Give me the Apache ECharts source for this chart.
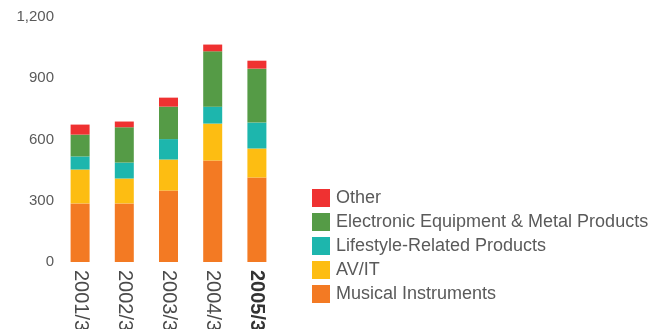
<!DOCTYPE html>
<html>
<head>
<meta charset="utf-8">
<script src="https://cdn.jsdelivr.net/npm/echarts@6/dist/echarts.min.js"></script>
<style>
  html, body { margin: 0; padding: 0; background: #fff; }
  #chart { width: 664px; height: 329px; }
</style>
</head>
<body>
<div id="chart"></div>
<script>
// Fiscal years (ending March)
const categories = ['2001/3', '2002/3', '2003/3', '2004/3', '2005/3'];

// Segment values, stacked bottom to top
const musicalInstruments = [287, 287, 350, 497, 414];
const avIt = [166, 122, 152, 181, 142];
const lifestyleProducts = [64, 78, 100, 83, 127];
const electronicMetal = [107, 173, 159, 271, 264];
const other = [49, 28, 44, 33, 39];

const yTicks = [0, 300, 600, 900, 1200];

const colors = {
  mi: '#F37A23',
  av: '#FDBD12',
  ls: '#1DB6AD',
  em: '#559B46',
  ot: '#EF3131'
};

const fontFamily = '"Liberation Sans", Arial, sans-serif';

function bar(name, data, color) {
  return {
    name: name,
    type: 'bar',
    stack: 'total',
    data: data,
    barWidth: 19,
    itemStyle: { color: color },
    emphasis: { disabled: true }
  };
}

const chart = echarts.init(document.getElementById('chart'), null, { renderer: 'canvas' });
chart.setOption({
  animation: false,
  textStyle: { fontFamily: fontFamily },
  grid: {
    left: 58, top: 17, width: 221, height: 245,
    containLabel: false,
    outerBoundsMode: 'none'
  },
  xAxis: {
    type: 'category',
    data: categories,
    axisLine: { show: false },
    axisTick: { show: false },
    axisLabel: {
      rotate: -90,
      margin: 8,
      fontSize: 20,
      color: '#4a4a4a',
      fontFamily: fontFamily,
      formatter: function (v, i) {
        return i === categories.length - 1 ? '{b|' + v + '}' : v;
      },
      rich: {
        b: { fontWeight: 'bold', fontSize: 20, color: '#333', fontFamily: fontFamily }
      }
    }
  },
  yAxis: {
    type: 'value',
    min: yTicks[0],
    max: yTicks[yTicks.length - 1],
    interval: 300,
    splitLine: { show: false },
    axisLine: { show: false },
    axisTick: { show: false },
    axisLabel: {
      margin: 4,
      fontSize: 15,
      color: '#5a5a5a',
      fontFamily: fontFamily,
      formatter: function (v) { return v.toLocaleString('en-US'); }
    }
  },
  legend: {
    orient: 'vertical',
    left: 307,
    top: 184,
    itemWidth: 18,
    itemHeight: 18,
    itemGap: 6,
    icon: 'rect',
    selectedMode: false,
    textStyle: { fontSize: 18, color: '#5a5a5a', fontFamily: fontFamily, padding: [0, 0, 0, 1] },
    data: ['Other', 'Electronic Equipment & Metal Products', 'Lifestyle-Related Products', 'AV/IT', 'Musical Instruments']
  },
  series: [
    bar('Musical Instruments', musicalInstruments, colors.mi),
    bar('AV/IT', avIt, colors.av),
    bar('Lifestyle-Related Products', lifestyleProducts, colors.ls),
    bar('Electronic Equipment & Metal Products', electronicMetal, colors.em),
    bar('Other', other, colors.ot)
  ]
});
</script>
</body>
</html>
